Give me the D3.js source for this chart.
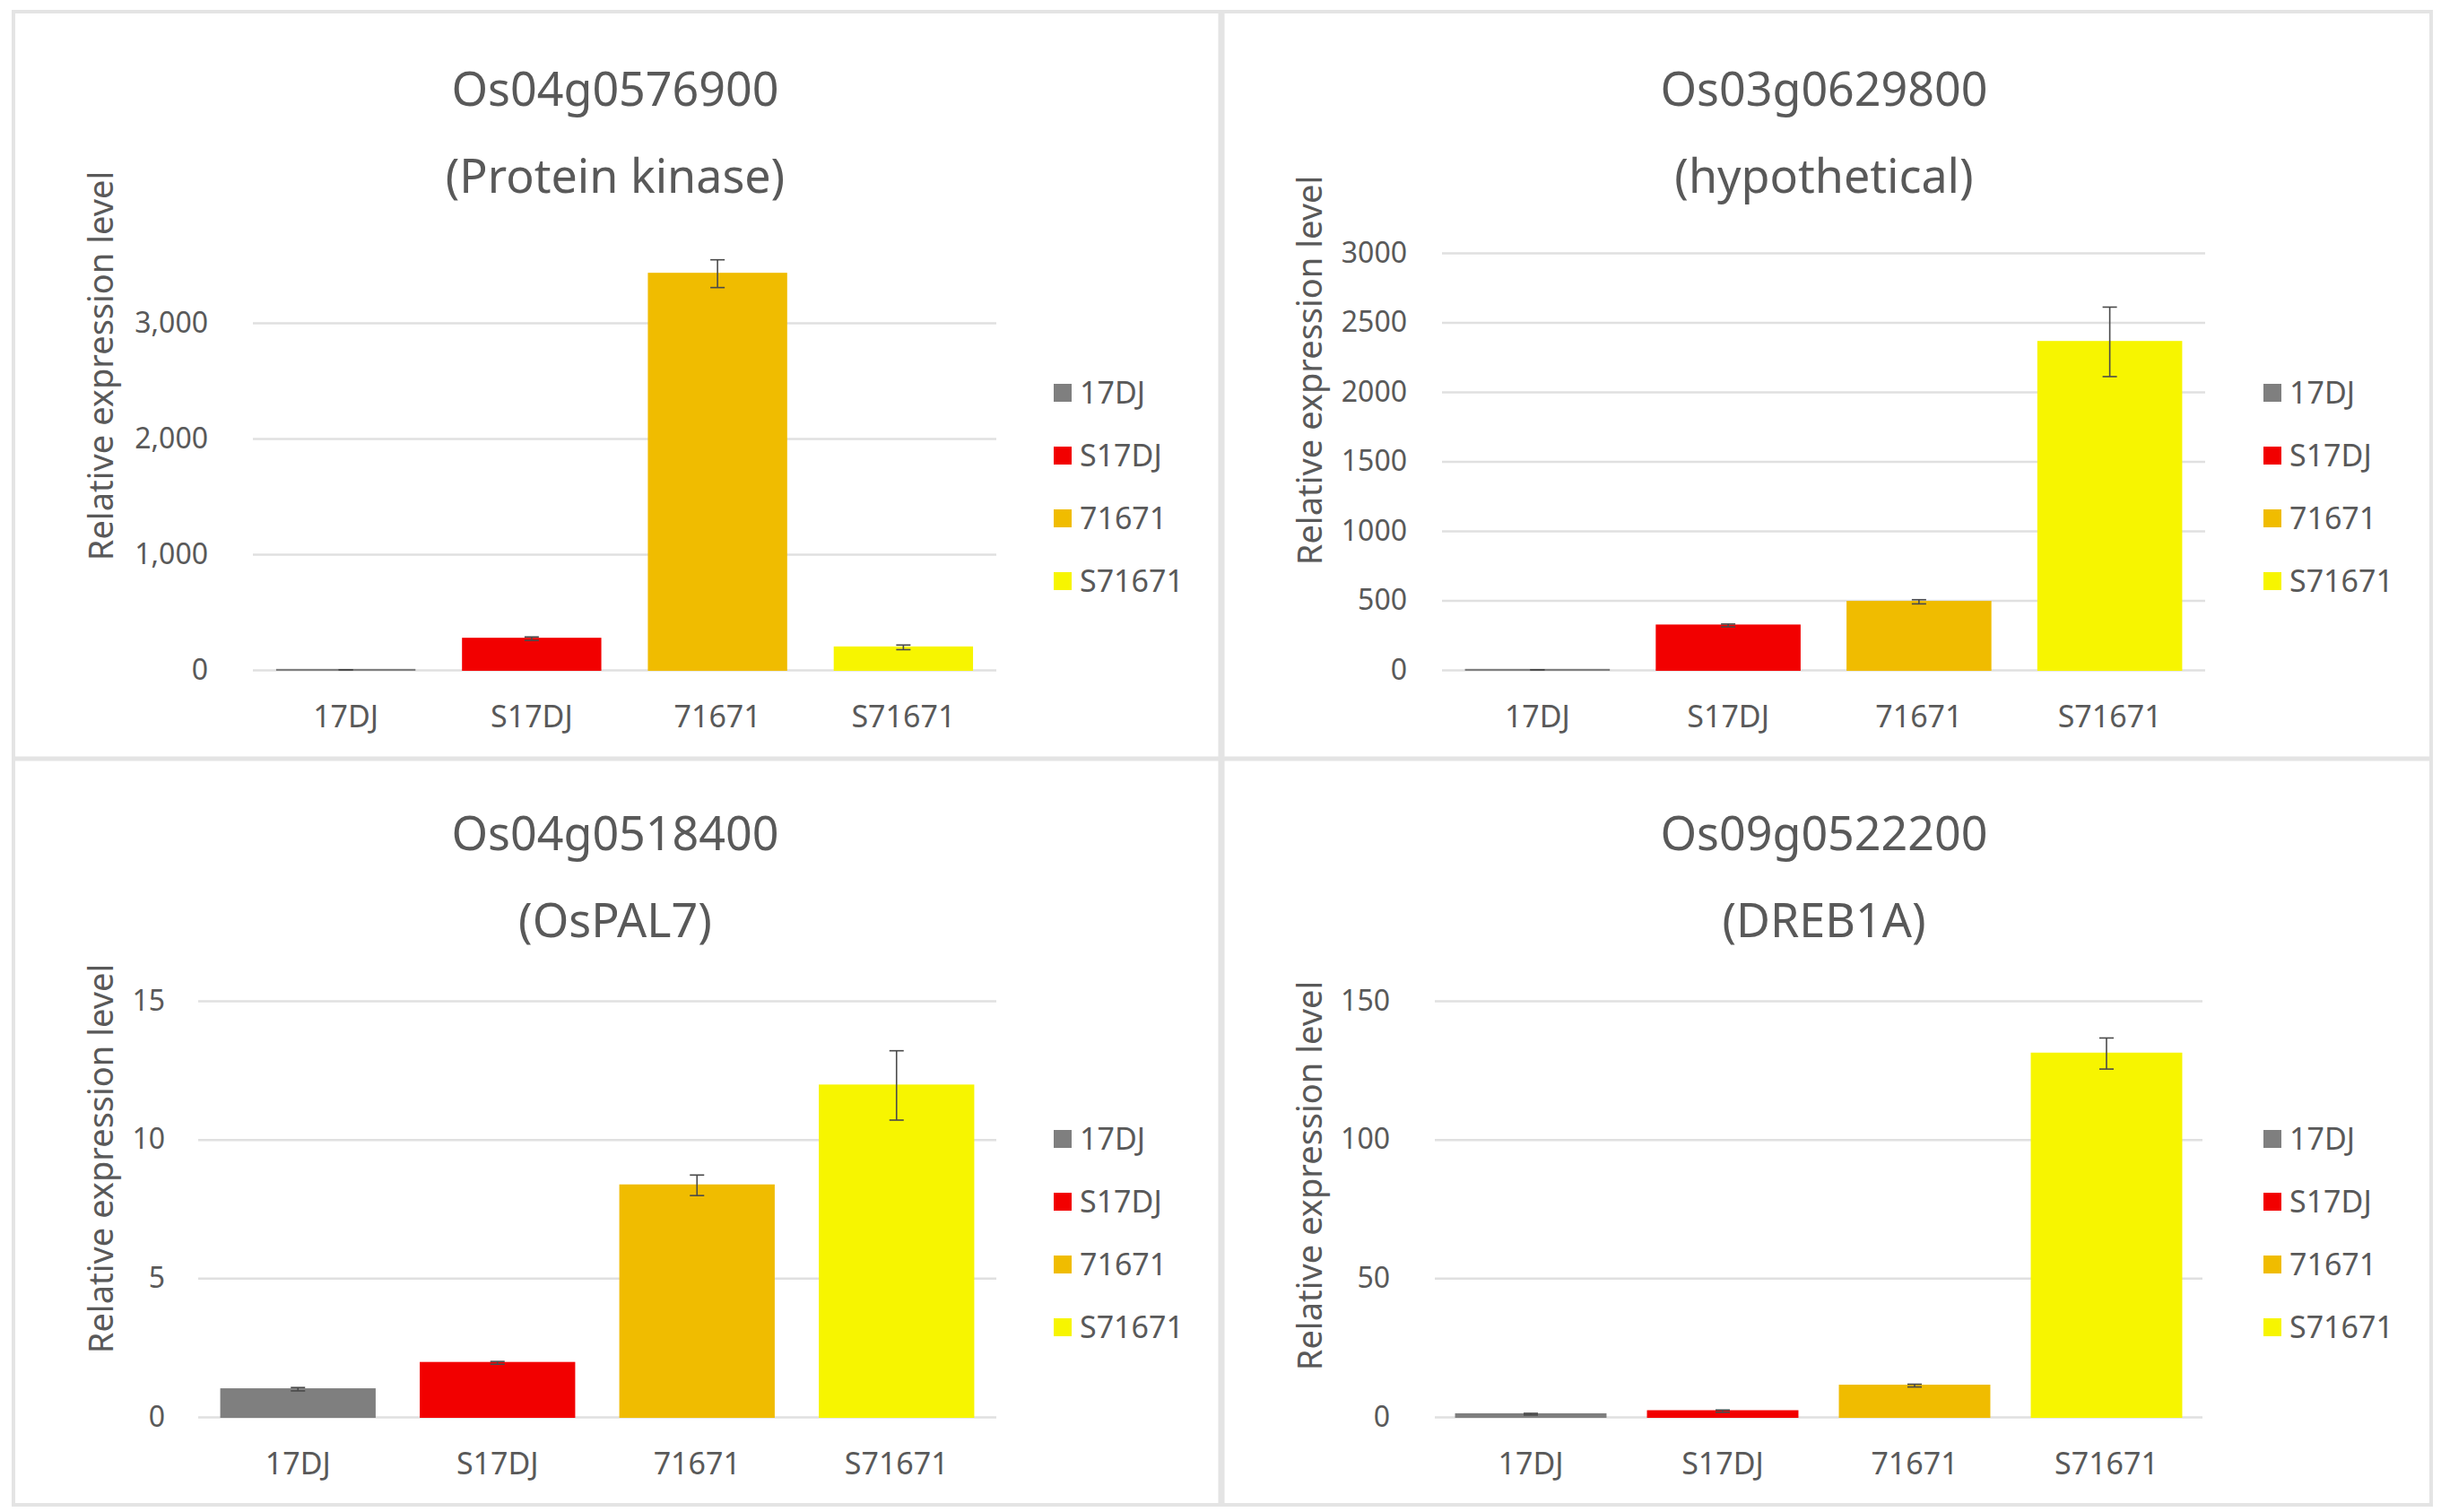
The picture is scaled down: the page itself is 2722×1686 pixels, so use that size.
<!DOCTYPE html>
<html>
<head>
<meta charset="utf-8">
<script src="https://cdn.jsdelivr.net/npm/d3@7"></script>
<style>
  body { margin: 0; background: #fff; }
  svg { display: block; }
  text { font-family: "Noto Sans", sans-serif; fill: #595959; }
</style>
</head>
<body>
<script>
// --- data ---
const lines = ["17DJ", "S17DJ", "71671", "S71671"];
const lineColors = ["#7f7f7f", "#f20000", "#f0bc00", "#f7f500"];

const geneIds = ["Os04g0576900", "Os03g0629800", "Os04g0518400", "Os09g0522200"];
const geneNames = ["(Protein kinase)", "(hypothetical)", "(OsPAL7)", "(DREB1A)"];

const kinaseMean = [1, 270, 3425, 195];
const kinaseErr = [0.3, 15, 120, 20];
const hypoMean = [1, 320, 490, 2360];
const hypoErr = [0.3, 10, 15, 250];
const palMean = [1.0, 1.95, 8.35, 11.95];
const palErr = [0.06, 0.05, 0.37, 1.25];
const drebMean = [1.0, 2.1, 11.3, 131];
const drebErr = [0.3, 0.4, 0.5, 5.6];

const yTicks1 = [0, 1000, 2000, 3000];
const yTicks2 = [0, 500, 1000, 1500, 2000, 2500, 3000];
const yTicks3 = [0, 5, 10, 15];
const yTicks4 = [0, 50, 100, 150];

const yLabel = "Relative expression level";

// --- layout of the four panels ---
const panels = [
  {mean: kinaseMean, err: kinaseErr, ticks: yTicks1, fmt: d3.format(","),
   x0: 282, x1: 1111, y0: 747, yTop: 360, pad: 0.26, gap: 50,
   cx: 686, tY: 99, labX: 113, labY: 408, legX: 1175, legY: 438},
  {mean: hypoMean, err: hypoErr, ticks: yTicks2, fmt: d3.format("d"),
   x0: 1608, x1: 2459, y0: 747, yTop: 282, pad: 0.25, gap: 39,
   cx: 2034, tY: 99, labX: 1461, labY: 413, legX: 2524, legY: 438},
  {mean: palMean, err: palErr, ticks: yTicks3, fmt: d3.format("d"),
   x0: 221, x1: 1111, y0: 1580, yTop: 1116, pad: 0.23, gap: 37,
   cx: 686, tY: 929, labX: 113, labY: 1292, legX: 1175, legY: 1270},
  {mean: drebMean, err: drebErr, ticks: yTicks4, fmt: d3.format("d"),
   x0: 1600, x1: 2456, y0: 1580, yTop: 1116, pad: 0.22, gap: 50,
   cx: 2034, tY: 929, labX: 1461, labY: 1311, legX: 2524, legY: 1270}
];

const W = 2722, H = 1686;
const svg = d3.select("body").append("svg")
    .attr("width", W)
    .attr("height", H);

svg.append("rect").attr("width", W).attr("height", H).attr("fill", "#fff");

// panel frames
const frame = svg.append("g").attr("fill", "none").attr("stroke", "#e4e4e4");
frame.append("rect").attr("x", 15).attr("y", 13).attr("width", 2696).attr("height", 1665).attr("stroke-width", 4);
frame.append("line").attr("x1", 1362).attr("x2", 1362).attr("y1", 13).attr("y2", 1678).attr("stroke-width", 7);
frame.append("line").attr("x1", 15).attr("x2", 2711).attr("y1", 846).attr("y2", 846).attr("stroke-width", 5);

panels.forEach((p, gi) => {
  const g = svg.append("g");
  const x = d3.scaleBand().domain(lines).range([p.x0, p.x1])
      .paddingInner(p.pad).paddingOuter(p.pad / 2);
  const y = d3.scaleLinear().domain([0, d3.max(p.ticks)]).range([p.y0, p.yTop]);

  // y axis with gridlines
  const ya = g.append("g")
      .attr("transform", `translate(${p.x0},0)`)
      .call(d3.axisLeft(y).tickValues(p.ticks).tickFormat(p.fmt)
        .tickSize(-(p.x1 - p.x0)).tickPadding(p.gap));
  ya.select(".domain").remove();
  ya.selectAll(".tick line").attr("stroke", "#e0e0e0").attr("stroke-width", 2.5);
  ya.selectAll(".tick text").attr("font-size", 32).attr("fill", "#595959")
      .style("font-family", "'Noto Sans', sans-serif");

  // bars
  const rows = lines.map((k, i) => ({k, v: p.mean[i], e: p.err[i], c: lineColors[i]}));
  g.selectAll(".bar").data(rows).join("rect")
      .attr("x", d => x(d.k))
      .attr("y", d => y(d.v))
      .attr("width", x.bandwidth())
      .attr("height", d => y(0) - y(d.v))
      .attr("fill", d => d.c)
      .attr("stroke", d => d.c)
      .attr("stroke-width", 2);

  // error bars
  const eb = g.selectAll(".err").data(rows).join("g")
      .attr("stroke", "#4a4a4a").attr("stroke-width", 1.6);
  eb.append("line")
      .attr("x1", d => x(d.k) + x.bandwidth() / 2)
      .attr("x2", d => x(d.k) + x.bandwidth() / 2)
      .attr("y1", d => y(d.v + d.e))
      .attr("y2", d => y(d.v - d.e));
  [1, -1].forEach(s => {
    eb.append("line")
        .attr("x1", d => x(d.k) + x.bandwidth() / 2 - 8)
        .attr("x2", d => x(d.k) + x.bandwidth() / 2 + 8)
        .attr("y1", d => y(d.v + s * d.e))
        .attr("y2", d => y(d.v + s * d.e));
  });

  // x axis labels
  const xa = g.append("g")
      .attr("transform", `translate(0,${p.y0})`)
      .call(d3.axisBottom(x).tickSize(0).tickPadding(40));
  xa.select(".domain").remove();
  xa.selectAll(".tick text").attr("font-size", 34).attr("fill", "#595959")
      .style("font-family", "'Noto Sans', sans-serif");

  // titles
  g.append("text").attr("x", p.cx).attr("y", p.tY).attr("dy", "0.36em")
      .attr("text-anchor", "middle").attr("font-size", 52).text(geneIds[gi]);
  g.append("text").attr("x", p.cx).attr("y", p.tY + 97).attr("dy", "0.36em")
      .attr("text-anchor", "middle").attr("font-size", 52).text(geneNames[gi]);

  // y label
  g.append("text")
      .attr("transform", `translate(${p.labX},${p.labY}) rotate(-90)`)
      .attr("dy", "0.35em")
      .attr("text-anchor", "middle")
      .attr("font-size", 38)
      .text(yLabel);

  // legend
  const lg = g.selectAll(".leg").data(rows).join("g")
      .attr("transform", (d, i) => `translate(${p.legX},${p.legY + i * 70})`);
  lg.append("rect").attr("x", 0).attr("y", -10).attr("width", 20).attr("height", 20)
      .attr("fill", d => d.c);
  lg.append("text").attr("x", 29).attr("dy", "0.36em").attr("font-size", 34)
      .text(d => d.k);
});
</script>
</body>
</html>
